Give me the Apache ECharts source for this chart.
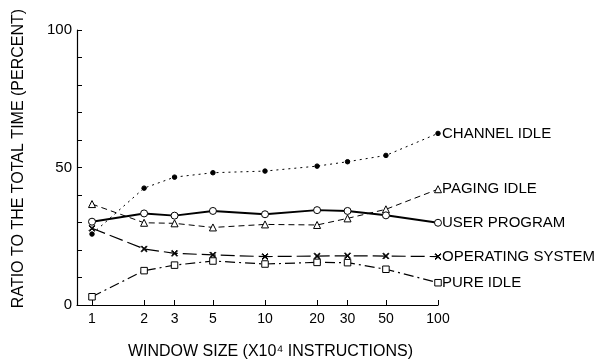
<!DOCTYPE html>
<html>
<head>
<meta charset="utf-8">
<script src="https://cdn.jsdelivr.net/npm/echarts@6/dist/echarts.min.js"></script>
<style>html,body{margin:0;padding:0;background:#fff;}#c{width:605px;height:362px;}</style>
</head>
<body>
<div id="c"></div>
<script>
const windowSizes = [1, 2, 3, 5, 10, 20, 30, 50, 100];
const xTickLabels = [1, 2, 3, 5, 10, 20, 30, 50, 100];
const yTickLabels = [0, 50, 100];
const channelIdle   = [25.8, 42.5, 46.5, 48.1, 48.7, 50.5, 52.1, 54.4, 62.4];
const pagingIdle    = [36.7, 29.9, 29.7, 28.2, 29.3, 29.1, 31.5, 34.8, 42.1];
const userProgram   = [30.3, 33.3, 32.5, 34.2, 33.0, 34.5, 34.2, 32.6, 29.9];
const operatingSys  = [27.9, 20.4, 18.8, 18.2, 17.6, 17.8, 17.9, 17.8, 17.6];
const pureIdle      = [3.0, 12.5, 14.5, 16.0, 14.9, 15.5, 15.4, 13.0, 8.1];

const FONT = '"Liberation Sans", Arial, sans-serif';
const pair = arr => windowSizes.map((w, i) => [w, arr[i]]);
const xPath = 'path://M1,0L5,4L9,0L10,1L6,5L10,9L9,10L5,6L1,10L0,9L4,5L0,1Z';

function mk(name, arr, lineType, width, symbol, size, fillColor) {
  return {
    name: name, type: 'line', data: pair(arr),
    symbol: symbol, symbolSize: size,
    lineStyle: { color: '#000', width: width, type: lineType },
    itemStyle: { color: fillColor, borderColor: '#000', borderWidth: 1 },
    endLabel: { show: true, formatter: name, color: '#000', fontFamily: FONT, fontSize: 15, distance: 4 },
    z: 3
  };
}

const chart = echarts.init(document.getElementById('c'), null, { renderer: 'canvas' });
chart.setOption({
  animation: false,
  backgroundColor: '#fff',
  grid: { left: 77, right: 167, top: 30, bottom: 57, containLabel: false, outerBoundsMode: 'none' },
  xAxis: {
    type: 'log', logBase: 10, min: 0.819, max: 100,
    name: 'WINDOW SIZE (X10⁴ INSTRUCTIONS)', nameLocation: 'middle', nameGap: 39,
    nameTextStyle: { color: '#000', fontFamily: FONT, fontSize: 16, padding: [0, 0, 0, 26] },
    axisLine: { show: true, lineStyle: { color: '#000', width: 1.2 } },
    axisTick: { show: true, inside: true, length: 5, customValues: xTickLabels, lineStyle: { color: '#000' } },
    axisLabel: { show: true, customValues: xTickLabels, color: '#000', fontFamily: FONT, fontSize: 14, margin: 7 },
    splitLine: { show: false }, minorTick: { show: false }
  },
  yAxis: {
    type: 'value', min: 0, max: 100, interval: 10,
    name: 'RATIO TO THE TOTAL TIME (PERCENT)', nameLocation: 'middle', nameGap: 50, nameRotate: 90,
    nameTextStyle: { color: '#000', fontFamily: FONT, fontSize: 16, padding: [0, 0, 0, 18] },
    axisLine: { show: true, lineStyle: { color: '#000', width: 1.2 } },
    axisTick: { show: true, inside: true, length: 5, lineStyle: { color: '#000' } },
    axisLabel: { color: '#000', fontFamily: FONT, fontSize: 15, margin: 5,
      formatter: v => (yTickLabels.indexOf(v) >= 0 ? String(v) : '') },
    splitLine: { show: false }
  },
  series: [
    mk('CHANNEL IDLE', channelIdle, [2, 4], 1, 'circle', 4.5, '#000'),
    mk('PAGING IDLE', pagingIdle, [6, 4], 1, 'triangle', 7, '#fff'),
    mk('USER PROGRAM', userProgram, 'solid', 2, 'circle', 7, '#fff'),
    mk('OPERATING SYSTEM', operatingSys, [14, 5], 1.2, xPath, 6, '#000'),
    mk('PURE IDLE', pureIdle, [10, 4, 2, 4], 1.2, 'rect', 6.5, '#fff')
  ]
});
</script>
</body>
</html>
